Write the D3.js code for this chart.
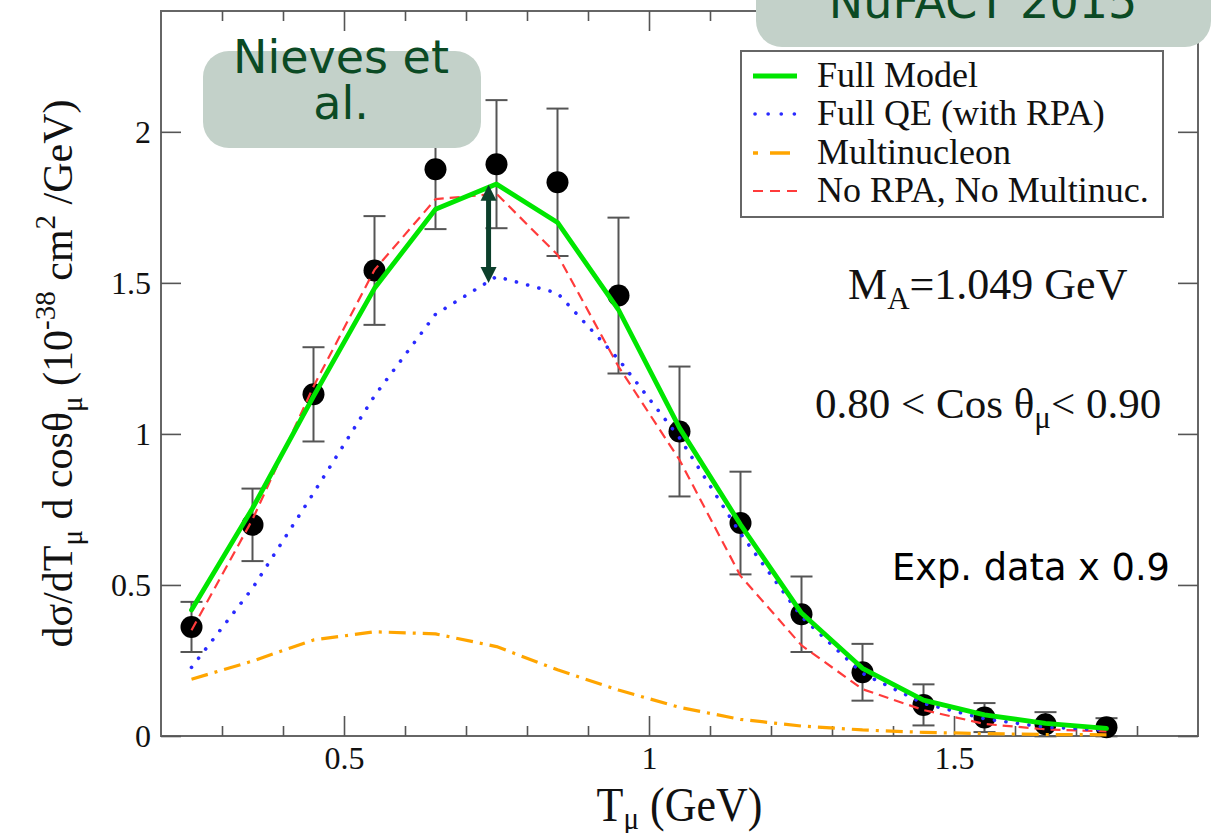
<!DOCTYPE html>
<html>
<head>
<meta charset="utf-8">
<script src="https://cdn.jsdelivr.net/npm/d3@7/dist/d3.min.js"></script>
<style>
  html, body { margin: 0; padding: 0; background: #ffffff; }
  svg { display: block; }
  .serif { font-family: "Liberation Serif", "Times New Roman", serif; fill: #111; }
  .sans { font-family: "DejaVu Sans", Verdana, sans-serif; }
</style>
</head>
<body>
<svg id="chart" width="1214" height="833"></svg>
<script>
// Muon kinetic energy bins (GeV)
const tMu = [0.25, 0.35, 0.45, 0.55, 0.65, 0.75, 0.85, 0.95, 1.05, 1.15, 1.25, 1.35, 1.45, 1.55, 1.65, 1.75];

// Experimental points (scaled by 0.9) and their errors
const expValues = [0.361, 0.699, 1.131, 1.541, 1.876, 1.893, 1.833, 1.458, 1.008, 0.705, 0.403, 0.211, 0.103, 0.061, 0.039, 0.029];
const expErrors = [0.083, 0.120, 0.156, 0.180, 0.198, 0.212, 0.244, 0.258, 0.215, 0.170, 0.125, 0.094, 0.068, 0.048, 0.040, 0.030];

// Model curves
const fullModel   = [0.417, 0.754, 1.124, 1.482, 1.744, 1.827, 1.700, 1.411, 1.020, 0.700, 0.407, 0.224, 0.119, 0.070, 0.042, 0.025];
const fullQE      = [0.227, 0.489, 0.804, 1.126, 1.396, 1.521, 1.466, 1.247, 0.987, 0.670, 0.395, 0.207, 0.108, 0.057, 0.029, 0.020];
const multinuc    = [0.188, 0.248, 0.318, 0.345, 0.338, 0.296, 0.219, 0.152, 0.095, 0.055, 0.033, 0.020, 0.012, 0.008, 0.005, 0.004];
const noRpaNoMult = [0.350, 0.717, 1.157, 1.543, 1.777, 1.795, 1.593, 1.223, 0.914, 0.530, 0.300, 0.155, 0.086, 0.040, 0.022, 0.015];

// Axis ticks
const xMajorTicks = [0.5, 1, 1.5];
const xMajorLabels = ["0.5", "1", "1.5"];
const xMinorTicks = [0.3, 0.4, 0.6, 0.7, 0.8, 0.9, 1.1, 1.2, 1.3, 1.4, 1.6, 1.7, 1.8];
const yMajorTicks = [0, 0.5, 1, 1.5, 2];
const yMajorLabels = ["0", "0.5", "1", "1.5", "2"];

// Legend entries
const legendNames = ["Full Model", "Full QE (with RPA)", "Multinucleon", "No RPA, No Multinuc."];

// Arrow marking the RPA + multinucleon gap at the peak
const gapArrow = { t: 0.737, from: 1.50, to: 1.825 };

const svg = d3.select("#chart");
const plotL = 161, plotR = 1198, plotT = 11, plotB = 736;

const x = d3.scaleLinear().domain([0.2, 1.9]).range([plotL, plotR]);
const y = d3.scaleLinear().domain([0, 2.4]).range([plotB, plotT]);

// Frame
svg.append("rect")
  .attr("x", plotL).attr("y", plotT)
  .attr("width", plotR - plotL).attr("height", plotB - plotT)
  .attr("fill", "none").attr("stroke", "#666").attr("stroke-width", 2);

function styleAxis(g, withText) {
  g.select(".domain").remove();
  g.selectAll(".tick line").attr("stroke", "#555").attr("stroke-width", 1.6);
  if (withText) {
    g.selectAll(".tick text")
      .attr("class", "serif")
      .style("font-size", "32px")
      .attr("fill", "#111");
  } else {
    g.selectAll(".tick text").remove();
  }
}

const fmtFrom = (ticks, labels) => (d) => labels[ticks.indexOf(d)];

// Bottom axis
svg.append("g").attr("transform", `translate(0,${plotB})`)
  .call(d3.axisBottom(x).tickValues(xMajorTicks).tickSize(-20).tickPadding(10)
        .tickFormat(fmtFrom(xMajorTicks, xMajorLabels)))
  .call(g => styleAxis(g, true));
svg.append("g").attr("transform", `translate(0,${plotB})`)
  .call(d3.axisBottom(x).tickValues(xMinorTicks).tickSize(-10))
  .call(g => styleAxis(g, false));
// Top axis (mirrored, no labels)
svg.append("g").attr("transform", `translate(0,${plotT})`)
  .call(d3.axisTop(x).tickValues(xMajorTicks).tickSize(-20))
  .call(g => styleAxis(g, false));
svg.append("g").attr("transform", `translate(0,${plotT})`)
  .call(d3.axisTop(x).tickValues(xMinorTicks).tickSize(-10))
  .call(g => styleAxis(g, false));
// Left axis
svg.append("g").attr("transform", `translate(${plotL},0)`)
  .call(d3.axisLeft(y).tickValues(yMajorTicks).tickSize(-20).tickPadding(10)
        .tickFormat(fmtFrom(yMajorTicks, yMajorLabels)))
  .call(g => styleAxis(g, true));
// Right axis (mirrored)
svg.append("g").attr("transform", `translate(${plotR},0)`)
  .call(d3.axisRight(y).tickValues(yMajorTicks).tickSize(-20))
  .call(g => styleAxis(g, false));

// Axis titles
const xt = svg.append("text").attr("class", "serif")
  .attr("text-anchor", "middle")
  .attr("transform", `translate(${x(1.05)},821) scale(1,1.12)`)
  .style("font-size", "44px");
xt.append("tspan").text("T");
xt.append("tspan").attr("dy", 7).style("font-size", "29px").text("μ");
xt.append("tspan").attr("dy", -7).text(" (GeV)");

const yt = svg.append("text").attr("class", "serif")
  .attr("text-anchor", "middle")
  .attr("transform", `translate(72,${y(1.2)}) rotate(-90)`)
  .style("font-size", "42px");
yt.append("tspan").text("dσ/dT");
yt.append("tspan").attr("dy", 10).style("font-size", "29px").text("μ");
yt.append("tspan").attr("dy", -10).text(" d cosθ");
yt.append("tspan").attr("dy", 10).style("font-size", "29px").text("μ");
yt.append("tspan").attr("dy", -10).text(" (10");
yt.append("tspan").attr("dy", -17).style("font-size", "29px").text("-38");
yt.append("tspan").attr("dy", 17).text(" cm");
yt.append("tspan").attr("dy", -17).style("font-size", "29px").text("2");
yt.append("tspan").attr("dy", 17).text(" /GeV)");

// Curves
const line = d3.line().x((d, i) => x(tMu[i])).y(d => y(d)).curve(d3.curveLinear);

const series = [
  { values: multinuc,    color: "#ffa500", width: 3.2, dash: "17 7 3 7",  cap: "butt" },
  { values: noRpaNoMult, color: "#ff3b3b", width: 2.2, dash: "10 6",      cap: "butt" },
  { values: fullQE,      color: "#2a2aff", width: 3.6, dash: "0.1 11.5",  cap: "round" },
  { values: fullModel,   color: "#00e600", width: 4.8, dash: null,        cap: "round" }
];

// Error bars
const capHalf = 11;
const eb = svg.append("g").attr("stroke", "#555").attr("stroke-width", 2);
tMu.forEach((t, i) => {
  const yLo = y(expValues[i] - expErrors[i]), yHi = y(expValues[i] + expErrors[i]);
  eb.append("line").attr("x1", x(t)).attr("x2", x(t)).attr("y1", yLo).attr("y2", yHi);
  eb.append("line").attr("x1", x(t) - capHalf).attr("x2", x(t) + capHalf).attr("y1", yLo).attr("y2", yLo);
  eb.append("line").attr("x1", x(t) - capHalf).attr("x2", x(t) + capHalf).attr("y1", yHi).attr("y2", yHi);
});

// Data points
svg.append("g").selectAll("circle").data(expValues).join("circle")
  .attr("cx", (d, i) => x(tMu[i])).attr("cy", d => y(d)).attr("r", 11)
  .attr("fill", "#000");

// Model lines drawn above the points
series.forEach(s => {
  svg.append("path").datum(s.values)
    .attr("d", line)
    .attr("fill", "none")
    .attr("stroke", s.color)
    .attr("stroke-width", s.width)
    .attr("stroke-linecap", s.cap)
    .attr("stroke-linejoin", "round")
    .attr("stroke-dasharray", s.dash);
});

// Double-headed arrow
const ax = x(gapArrow.t), ay0 = y(gapArrow.from), ay1 = y(gapArrow.to);
const arrowColor = "#0c3f2b", headW = 8, headL = 16;
svg.append("line").attr("x1", ax).attr("x2", ax).attr("y1", ay0 - headL + 2).attr("y2", ay1 + headL - 2)
  .attr("stroke", arrowColor).attr("stroke-width", 5);
svg.append("path").attr("fill", arrowColor)
  .attr("d", `M${ax},${ay1} L${ax - headW},${ay1 + headL} L${ax + headW},${ay1 + headL} Z`);
svg.append("path").attr("fill", arrowColor)
  .attr("d", `M${ax},${ay0} L${ax - headW},${ay0 - headL} L${ax + headW},${ay0 - headL} Z`);

// Legend
const lg = svg.append("g");
lg.append("rect").attr("x", 741).attr("y", 51).attr("width", 422).attr("height", 166)
  .attr("fill", "#fff").attr("stroke", "#666").attr("stroke-width", 2);
const legendRows = [76, 114, 153, 191];
const legendStyle = [
  { color: "#00e600", width: 4.8, dash: null,          cap: "butt" },
  { color: "#2a2aff", width: 3.6, dash: "0.1 13",      cap: "round" },
  { color: "#ffa500", width: 3.6, dash: "5 12 20 50",  cap: "butt" },
  { color: "#ff3b3b", width: 2.2, dash: "10 7",        cap: "butt" }
];
legendNames.forEach((name, i) => {
  const ly = legendRows[i], st = legendStyle[i];
  lg.append("line").attr("x1", st.cap === "round" ? 755 : 753).attr("x2", 797)
    .attr("y1", ly).attr("y2", ly)
    .attr("stroke", st.color).attr("stroke-width", st.width)
    .attr("stroke-linecap", st.cap).attr("stroke-dasharray", st.dash);
  lg.append("text").attr("class", "serif").attr("x", 817).attr("y", ly + 11)
    .style("font-size", "36px").text(name);
});

// Annotations
const ma = svg.append("text").attr("class", "serif").attr("x", 848).attr("y", 299).style("font-size", "44px");
ma.append("tspan").text("M");
ma.append("tspan").attr("dy", 10).style("font-size", "31px").text("A");
ma.append("tspan").attr("dy", -10).text("=1.049 GeV");

const ct = svg.append("text").attr("class", "serif").attr("x", 815).attr("y", 418).style("font-size", "43px");
ct.append("tspan").text("0.80 < Cos θ");
ct.append("tspan").attr("dy", 10).style("font-size", "31px").text("μ");
ct.append("tspan").attr("dy", -10).text("< 0.90");

svg.append("text").attr("x", 892).attr("y", 580)
  .style("font-family", "'Comic Sans MS', 'DejaVu Sans', sans-serif")
  .style("font-size", "37px").attr("fill", "#000")
  .attr("textLength", 278).attr("lengthAdjust", "spacingAndGlyphs")
  .text("Exp. data x 0.9");

// Title boxes
const boxFill = "#c3d1c9", boxText = "#0b4a24";
svg.append("rect").attr("x", 756).attr("y", -40).attr("width", 455).attr("height", 87)
  .attr("rx", 26).attr("fill", boxFill);
svg.append("text").attr("class", "sans").attr("x", 983).attr("y", 18)
  .attr("text-anchor", "middle").style("font-size", "46px").attr("fill", boxText)
  .text("NuFACT 2015");

svg.append("rect").attr("x", 203).attr("y", 51).attr("width", 278).attr("height", 97)
  .attr("rx", 26).attr("fill", boxFill);
const nv = svg.append("text").attr("class", "sans").attr("text-anchor", "middle")
  .style("font-size", "46px").attr("fill", boxText);
nv.append("tspan").attr("x", 341).attr("y", 73).text("Nieves et");
nv.append("tspan").attr("x", 341).attr("y", 119).text("al.");
</script>
</body>
</html>
